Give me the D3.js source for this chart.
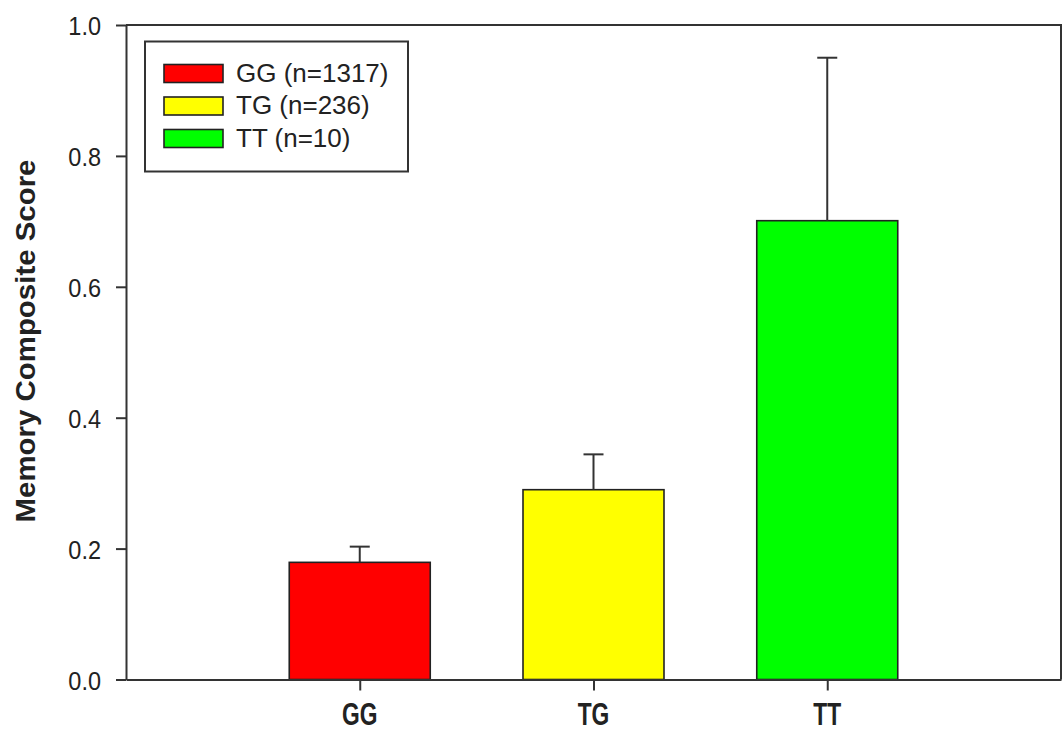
<html>
<head>
	<script src="https://d3js.org/d3.v7.min.js"></script>
	<style>
	body { margin: 0; background: #fff; }
	text { font-family: Arial, "Liberation Sans", Helvetica, sans-serif; fill: #222; }
	.bar { stroke: #222; stroke-width: 1.6; }
	.err { stroke: #333; stroke-width: 2; }
	.frame { stroke: #333; stroke-width: 2; fill: none; }
	</style>
</head>
<body>
<svg id="chart"></svg>
<script>
// chart data
var categories = ['GG', 'TG', 'TT'];
var means = [0.179, 0.290, 0.701];
var stdErr = [0.024, 0.054, 0.249];
var legendLabels = ['GG (n=1317)', 'TG (n=236)', 'TT (n=10)'];
var barColors = ['#ff0000', '#ffff00', '#00ff00'];
var yTicks = [0.0, 0.2, 0.4, 0.6, 0.8, 1.0];

var W = 1064, H = 731;
var p = { left: 126, right: 1061, top: 25, bottom: 679.5, barW: 141, cap: 20 };

var svg = d3.select('#chart')
	.attr('width', W)
	.attr('height', H);

// categories sit at 1,2,3 on a 0..4 axis
var x = d3.scaleLinear().domain([0, categories.length + 1]).range([p.left, p.right]);
var y = d3.scaleLinear().domain([0, 1]).range([p.bottom, p.top]);

var data = categories.map(function(c, i) {
	return { cat: c, i: i + 1, mean: means[i], se: stdErr[i], color: barColors[i] };
});

// bars
svg.selectAll('.bar')
	.data(data)
	.enter().append('rect')
	.attr('class', 'bar')
	.attr('x', function(d) { return x(d.i) - p.barW / 2; })
	.attr('y', function(d) { return y(d.mean); })
	.attr('width', p.barW)
	.attr('height', function(d) { return y(0) - y(d.mean); })
	.attr('fill', function(d) { return d.color; });

// error bars (upper only)
var eb = svg.selectAll('.ebar')
	.data(data)
	.enter().append('g')
	.attr('class', 'ebar');
eb.append('line')
	.attr('class', 'err')
	.attr('x1', function(d) { return x(d.i); })
	.attr('x2', function(d) { return x(d.i); })
	.attr('y1', function(d) { return y(d.mean); })
	.attr('y2', function(d) { return y(d.mean + d.se); });
eb.append('line')
	.attr('class', 'err')
	.attr('x1', function(d) { return x(d.i) - p.cap / 2; })
	.attr('x2', function(d) { return x(d.i) + p.cap / 2; })
	.attr('y1', function(d) { return y(d.mean + d.se); })
	.attr('y2', function(d) { return y(d.mean + d.se); });

// frame top and right
svg.append('path')
	.attr('class', 'frame')
	.attr('d', 'M' + p.left + ',' + p.top + 'H' + p.right + 'V' + p.bottom);

// y axis
var yAxis = svg.append('g')
	.attr('transform', 'translate(' + p.left + ',0)')
	.call(d3.axisLeft(y).tickValues(yTicks).tickSize(10).tickSizeOuter(0).tickPadding(15).tickFormat(d3.format('.1f')));
yAxis.select('.domain').attr('stroke', '#333').attr('stroke-width', 2);
yAxis.selectAll('.tick line').attr('stroke', '#333').attr('stroke-width', 2);
yAxis.selectAll('.tick text')
	.attr('font-size', 23.5)
	.attr('font-family', 'Arial, "Liberation Sans", sans-serif')
	.attr('fill', '#222')
	.attr('dy', '0.36em')
	.attr('transform', 'scale(1,1.13)');

// x axis
var xAxis = svg.append('g')
	.attr('transform', 'translate(0,' + p.bottom + ')')
	.call(d3.axisBottom(x).tickValues(data.map(function(d) { return d.i; })).tickSize(11).tickSizeOuter(0).tickFormat(''));
xAxis.select('.domain').attr('stroke', '#333').attr('stroke-width', 2);
xAxis.selectAll('.tick line').attr('stroke', '#333').attr('stroke-width', 2);

svg.selectAll('.xlab')
	.data(data)
	.enter().append('text')
	.attr('class', 'xlab')
	.attr('text-anchor', 'middle')
	.attr('font-weight', 'bold')
	.attr('font-size', 24)
	.attr('fill', '#111')
	.attr('transform', function(d) { return 'translate(' + x(d.i) + ',725) scale(0.95,1.32)'; })
	.text(function(d) { return d.cat; });

// y axis title
svg.append('text')
	.attr('text-anchor', 'middle')
	.attr('font-weight', 'bold')
	.attr('font-size', 27)
	.attr('fill', '#111')
	.attr('transform', 'translate(35,341) rotate(-90) scale(1.09,1)')
	.text('Memory Composite Score');

// legend
var lg = svg.append('g').attr('transform', 'translate(145,41.5)');
lg.append('rect')
	.attr('width', 263)
	.attr('height', 130)
	.attr('fill', '#fff')
	.attr('stroke', '#333')
	.attr('stroke-width', 2);
var item = lg.selectAll('.item')
	.data(legendLabels)
	.enter().append('g')
	.attr('transform', function(d, i) { return 'translate(0,' + (23 + i * 32.5) + ')'; });
item.append('rect')
	.attr('x', 19)
	.attr('width', 59)
	.attr('height', 18)
	.attr('fill', function(d, i) { return barColors[i]; })
	.attr('stroke', '#222')
	.attr('stroke-width', 1.6);
item.append('text')
	.attr('x', 91)
	.attr('y', 17)
	.attr('font-size', 26)
	.text(function(d) { return d; });
</script>
</body>
</html>
